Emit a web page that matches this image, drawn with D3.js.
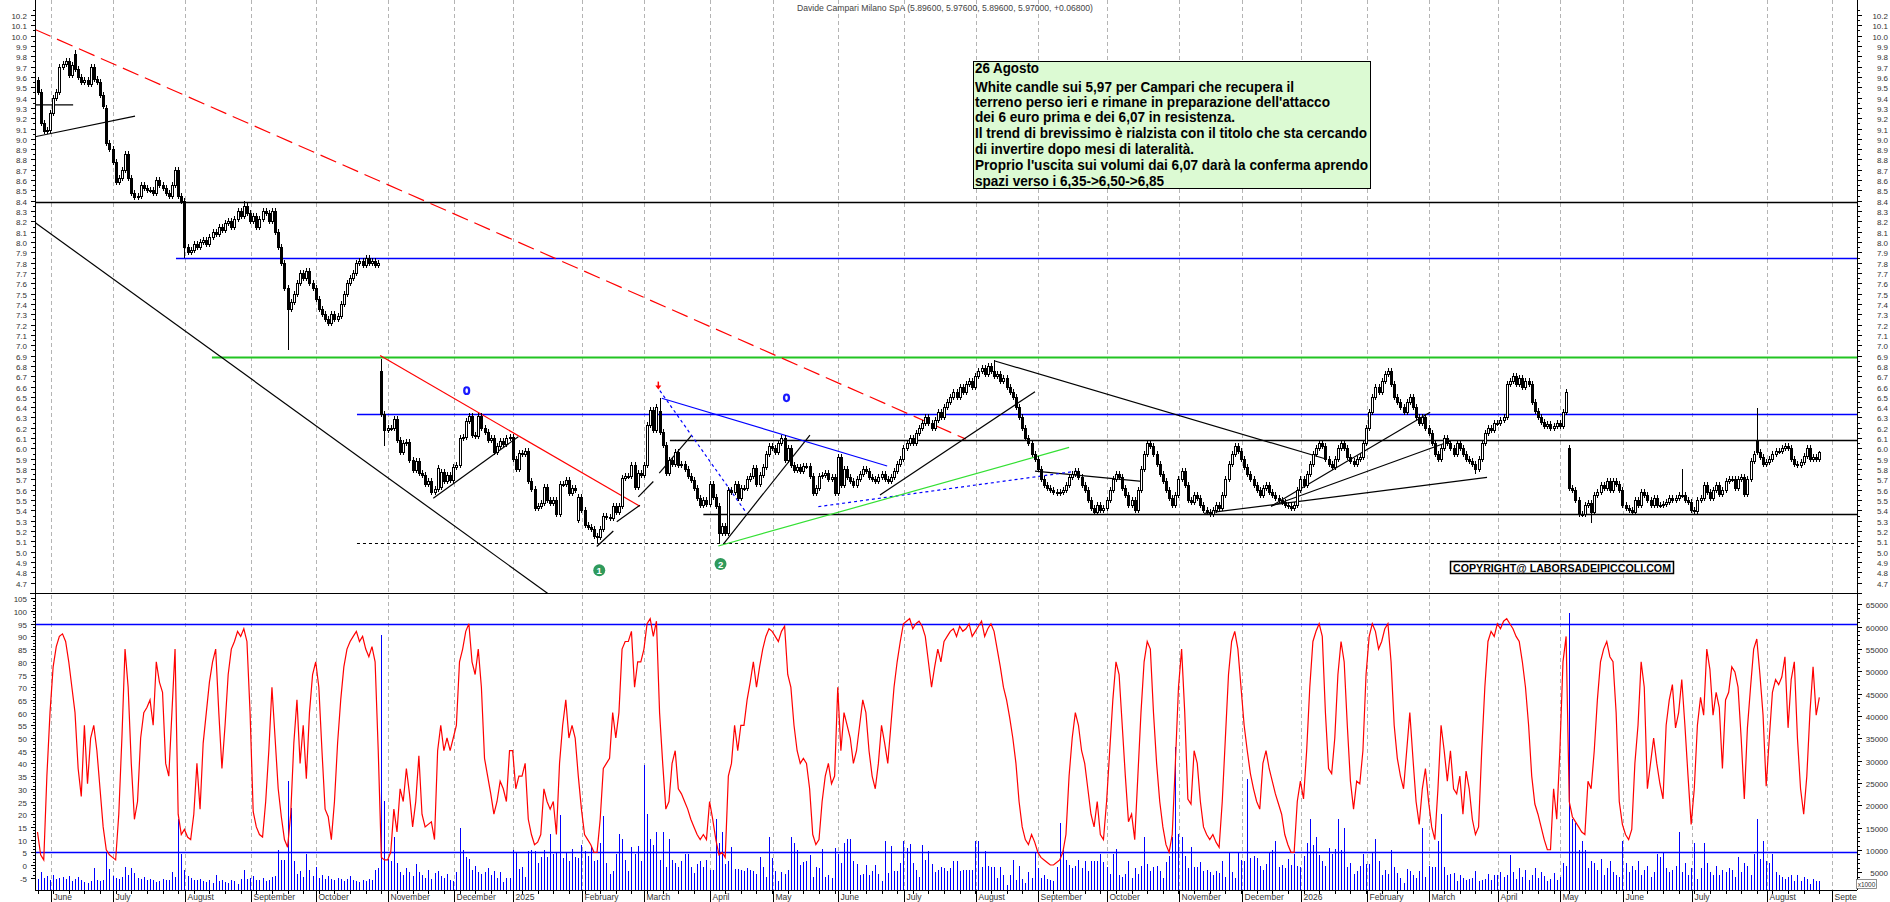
<!DOCTYPE html>
<html><head><meta charset="utf-8">
<script src="https://cdn.jsdelivr.net/npm/d3@7"></script>
<style>
html,body{margin:0;padding:0;background:#fff;overflow:hidden}
svg{display:block}
text{font-family:"Liberation Sans",Arial,sans-serif}
</style></head><body>
<svg id="c" width="1890" height="902"></svg>
<script>
// ---------------- DATA ----------------
const title = "Davide Campari Milano SpA (5.89600, 5.97600, 5.89600, 5.97000, +0.06800)";

// daily closes, late May 2024 -> 26 Aug 2026
const closes = [
9.45,9.15,9.08,9.09,
9.25,9.40,9.45,9.70,9.73,9.75,9.62,9.72,9.68,9.60,9.55,9.57,9.53,9.70,9.58,9.55,9.42,9.32,8.96,8.90,
8.78,8.58,8.62,8.70,8.85,8.62,8.48,8.44,8.45,8.55,8.52,8.50,8.50,8.48,8.60,8.55,8.52,8.48,8.45,8.55,8.70,8.45,8.40,
7.95,7.90,7.92,7.98,7.95,8.00,8.02,7.98,8.05,8.10,8.08,8.15,8.12,8.18,8.20,8.15,8.22,8.30,8.25,8.35,8.28,
8.20,8.25,8.15,8.22,8.30,8.28,8.20,8.30,8.10,7.95,7.80,7.55,7.35,7.42,7.50,7.60,7.70,7.65,7.72,7.60,7.55,
7.45,7.35,7.30,7.25,7.22,7.30,7.25,7.28,7.40,7.50,7.60,7.65,7.70,7.80,7.82,7.78,7.85,7.80,7.82,7.78,7.80,6.33,6.18,
6.20,6.20,6.29,6.08,5.97,6.05,6.06,5.89,5.79,5.88,5.76,5.74,5.66,5.68,5.58,5.61,5.81,5.77,5.68,5.74,5.69,
5.82,5.84,6.10,6.11,6.27,6.31,6.13,6.12,6.31,6.20,6.16,6.08,6.10,5.97,6.02,6.07,6.04,6.10,6.11,
5.90,5.80,5.96,5.95,5.98,5.68,5.61,5.42,5.44,5.47,5.63,5.50,5.47,5.50,5.36,5.66,5.66,5.69,5.57,5.62,5.60,5.53,
5.40,5.26,5.24,5.22,5.15,5.14,5.22,5.35,5.34,5.33,5.44,5.38,5.44,5.71,5.73,5.73,5.84,5.63,5.76,5.74,
5.84,6.23,6.37,6.18,6.40,6.16,6.03,5.76,5.89,5.85,5.97,5.84,5.85,5.80,5.73,5.69,5.62,5.52,5.45,5.50,5.46,
5.66,5.53,5.44,5.18,5.25,5.18,5.60,5.58,5.66,5.52,5.62,5.62,5.70,5.73,5.81,5.66,5.74,5.82,5.95,6.02,
6.00,5.97,6.05,6.10,5.89,6.00,5.84,5.79,5.82,5.78,5.83,5.83,5.73,5.57,5.62,5.73,5.74,5.76,5.70,5.72,5.57,
5.92,5.65,5.80,5.72,5.68,5.65,5.70,5.75,5.80,5.78,5.72,5.70,5.68,5.72,5.75,5.70,5.68,5.72,5.78,5.85,5.90,
6.00,6.05,6.10,6.05,6.15,6.20,6.25,6.30,6.25,6.20,6.28,6.35,6.30,6.40,6.45,6.50,6.55,6.50,6.60,6.55,6.62,6.65,6.60,
6.70,6.75,6.78,6.72,6.80,6.75,6.70,6.72,6.65,6.68,6.60,6.55,6.50,6.40,6.30,6.20,6.10,6.05,5.95,5.90,
5.80,5.70,5.65,5.62,5.60,5.58,5.57,5.58,5.60,5.65,5.72,5.75,5.78,5.72,5.65,5.60,5.50,5.42,5.38,5.45,5.40,5.42,
5.50,5.60,5.70,5.75,5.72,5.62,5.55,5.45,5.50,5.40,5.60,5.80,5.95,6.05,6.02,5.95,5.85,5.75,5.68,5.60,5.52,5.45,5.55,
5.70,5.78,5.65,5.50,5.48,5.55,5.52,5.45,5.40,5.38,5.36,5.40,5.45,5.42,5.55,5.70,5.85,5.95,6.02,5.98,
5.90,5.82,5.75,5.70,5.65,5.60,5.55,5.62,5.65,5.58,5.55,5.52,5.50,5.48,5.45,5.44,5.42,5.45,5.60,
5.70,5.65,5.75,5.85,5.95,6.00,6.05,6.02,5.90,5.85,5.82,5.90,6.00,6.05,6.00,5.92,5.88,5.85,5.90,5.92,6.05,
6.20,6.35,6.50,6.60,6.55,6.65,6.72,6.75,6.62,6.50,6.45,6.40,6.35,6.45,6.50,6.40,6.30,6.25,6.30,6.20,
6.15,6.05,5.95,5.90,6.00,6.10,6.05,6.00,5.95,6.05,6.00,5.95,5.90,5.88,5.85,5.80,5.90,6.05,6.15,6.20,6.18,6.25,
6.25,6.28,6.30,6.62,6.65,6.70,6.62,6.68,6.60,6.65,6.62,6.45,6.36,6.30,6.26,6.22,6.24,6.20,6.22,6.25,
6.22,6.35,6.55,5.62,5.60,5.50,5.36,5.36,5.45,5.47,5.38,5.55,5.58,5.65,5.62,5.68,5.60,5.68,5.66,5.60,
5.45,5.42,5.40,5.38,5.50,5.45,5.58,5.55,5.50,5.45,5.52,5.45,5.45,5.46,5.48,5.52,5.50,5.52,5.55,5.55,5.50,5.48,
5.40,5.39,5.50,5.52,5.65,5.58,5.52,5.60,5.65,5.56,5.60,5.68,5.70,5.70,5.62,5.70,5.72,5.56,5.70,5.88,5.95,5.97,5.92,5.85,
5.87,5.90,5.95,5.98,5.98,6.00,6.02,6.00,5.90,5.85,5.84,5.87,5.93,6.00,5.90,5.92,5.90,5.97
];
// opens that differ from the previous close [index, open]
const gapOpens = [[0,9.57],[12,9.82],[22,9.30],[110,6.75],[129,5.63],[173,5.31],[199,6.36],[490,6.00],[550,6.08],[570,5.896]];
// long wicks [index, price]
const highWicks = [[12,9.86],[66,8.40],[110,6.87],[199,6.49],[306,6.86],[526,5.80],[550,6.39],[570,5.976]];
const lowWicks = [[47,7.85],[80,6.95],[111,6.02],[179,5.08],[218,5.08],[460,5.75],[497,5.28]];

// oscillator (0-100)
const oscValues = [
13,4,2,35,
60,78,86,90,91,88,80,70,60,38,27,55,32,50,55,45,30,15,6,4,
3,2,20,50,85,70,40,18,25,50,60,62,65,55,80,72,68,40,35,60,85,20,12,
14,11,10,20,40,22,48,60,72,80,85,60,38,55,75,85,88,92,90,93,88,
60,21,15,12,11,25,45,70,50,30,19,10,7,20,48,65,40,55,34,60,75,
80,70,45,22,19,10,25,48,65,78,85,88,90,92,88,90,85,82,86,80,45,3,2,
2,5,22,13,30,25,38,28,15,25,43,20,15,16,17,10,45,55,45,50,45,
50,55,80,85,92,95,80,75,85,70,42,35,28,20,25,33,30,25,45,
45,30,35,35,40,18,12,8,9,12,30,25,22,25,12,40,55,65,50,55,50,35,
22,12,10,8,5,5,18,38,40,42,60,50,60,85,88,88,92,70,80,80,
85,95,97,90,96,60,40,22,25,40,45,30,28,25,22,18,15,12,10,12,10,
25,18,10,4,5,3,35,40,55,45,55,55,65,72,80,70,78,85,90,93,
92,90,88,92,94,75,70,55,45,40,42,40,30,12,8,10,25,35,40,32,35,
70,45,60,55,50,40,45,55,65,60,45,35,30,40,55,48,40,55,70,80,88,
95,96,97,93,95,96,94,90,80,70,78,85,80,88,90,92,93,90,94,92,93,95,90,
92,94,96,90,93,95,92,85,78,70,65,58,50,40,25,15,10,8,12,9,
5,3,2,1,0,0,1,2,5,12,35,50,60,55,45,40,30,20,15,25,12,10,
25,45,65,80,75,55,35,17,20,10,35,60,80,88,85,60,40,25,15,8,5,12,40,
70,85,60,26,24,45,40,25,15,12,10,12,9,7,25,50,75,88,92,85,
70,55,45,36,30,25,22,40,45,38,33,28,24,20,12,8,5,5,25,
33,26,45,70,88,92,95,90,60,38,36,50,75,88,80,55,33,22,33,32,45,
75,90,95,92,85,88,93,95,80,55,42,35,30,45,60,42,25,16,30,38,
25,15,10,30,55,45,33,45,30,28,35,20,37,30,18,12,15,45,70,88,92,90,
95,93,96,97,95,93,90,88,80,70,55,35,24,20,15,10,6,6,30,18,
45,80,90,25,19,17,15,13,12,33,30,45,65,80,85,88,82,80,60,25,
16,12,10,14,40,55,80,70,30,40,50,40,32,26,55,65,71,54,60,73,55,35,
16,30,55,66,59,85,77,59,68,62,38,65,68,78,76,70,50,26,54,70,85,89,75,59,
31,50,68,73,71,74,82,54,73,80,50,30,20,35,60,78,59,66
];

// volumes, thousands of shares
const volumes = [
3.5,5,3.8,4.2,3.2,4.4,3.6,3.8,4,3.5,4.2,3,3.6,4,3.2,2.8,2.6,3,6,3.4,3,3.2,9.5,5.8,
4.2,3.8,3.6,4,6.2,4.4,6,4.8,3.8,3.5,4,3.2,3.6,3.4,2.8,3,3.6,3.2,3.4,5,4,17,9,
5.5,4.2,3.8,3.4,3.2,3.6,3,2.8,3.3,2.6,4.4,3,3.2,2.8,2.6,3.4,3,2.5,3.5,5.5,3.6,
3.8,4.2,3.4,3.2,3.8,3,3.4,4,4.2,10,7.8,7.8,25.5,19.5,7.5,4.6,5.2,4,9,5.5,4.2,
6.2,3.8,4.4,3.6,4.2,3.6,3.2,3.8,3.5,3,3.6,4.2,3.4,3,2.8,3.4,3,3.6,3.2,5.5,6,58,21,
8,7.5,13,7,5,4.5,6,5,4.2,6.8,5,4.4,3.8,5.6,3.6,4.8,5.2,4.2,3.8,4.6,3.4,
3,5,15,10,8.5,8,5.5,6.4,5,4.6,5,6,4.4,5.2,3.8,
5.0,2.8,3.7,3.7,9.9,9.3,5.7,6.1,4,9.7,
9.9,9.7,7.2,8.4,9.9,8.4,13.5,9,9.5,17.8,
8.2,9.5,7.6,10.2,8.4,8.2,11.2,9.7,8.6,10.6,
7.5,7.8,11.6,17.5,7.1,4.6,5.3,9.2,13.5,12.5,
7.8,5.2,10.6,9,11,7.5,29,18,12.5,11.2,
14,7.8,14,6.1,12.5,7.8,7.1,6.1,7.5,9,
9,6.3,4.8,6.8,7.5,6.3,7.8,5.6,5.6,17,
11.6,14,6.8,7.5,10.6,5.7,5.7,5.6,5.3,5.9,
5.6,5.3,4.7,8.4,6.1,4,13,8.2,5.3,3.1,
5,4.6,5.6,13,11.6,10,6.7,7.3,7.6,8.8,
4,6.3,5.9,10.2,4,4.3,3.8,10.5,9,7.1,
11.6,12.5,12.5,7.5,6.8,4.4,4.7,6.7,4.4,5.2,
6.7,4.7,3,12,4.8,10.8,5.3,5.3,7.1,12,
10.5,11.4,7.1,5.6,4,11.2,7.7,9.7,6.8,5,
5.6,6.1,5.9,5.2,5.9,7.6,7.6,5.2,5.6,5.6,
5.6,5.6,12,12,6.1,9.7,6.5,6.3,6.3,3.8,
6.1,
4.4,2.2,4.4,7.7,3.3,6.5,3.5,2.55,5,3.8,
9.5,5.9,3.8,4.3,3.5,3.2,3,6.3,16,10,
7.7,6.7,5.9,6.5,7.7,5.9,7.5,5.2,7.5,7.6,
7.6,9,7.3,6.3,4.7,9,10.3,4.4,4,4.7,
7.6,3.7,5.9,4.6,6.5,13,6.9,5.2,6.3,6.5,
5.2,3.7,7.3,8.6,13,33,13.5,12.8,8.6,5.9,
10.7,6.1,6.1,7.3,5.2,5.6,5.1,4.4,5.2,4.8,
7.5,4,9.5,5.1,3.7,9.3,7.7,7.5,26,8.2,
8.6,8.2,6.5,5.6,6.8,9.3,10.1,12,6.1,6.7,
5.9,8,6.7,9,6.5,6.1,8.6,11.6,17,11.2,
13,8.8,7.6,6.5,10.5,9.2,10.3,17,10,15,
6.3,7.2,4.6,5.2,6.5,9,6.8,6.8,9.3,12.5,
7.6,4.4,5.6,4.7,10,6.3,4.8,3.7,2.55,5.7,
5.3,4.4,3.8,5.3,15,4,6.5,6.3,6.3,12,
18,6.3,4.4,4.6,4.8,3,4.3,3.8,3.3,3.5,
3.7,5.3,3,3.2,3.5,4.6,3.3,4.4,4.4,
5,4,4.5,8.8,
5,3.5,6,4,5.5,3.2,4.5,6,3.8,5,4.2,3,3.5,4.8,3.2,
4,7,6.5,
63,
17,16,10,12,10,6,7.5,
7,5.5,8,4.5,6,7.5,5,4.5,4,
12,
7,5,6.5,5.5,7.5,4.5,5.5,6.5,4,5,
9,8.5,9.5,6,5,
5.5,6.5,
14,
5,7,4.5,6,
11.5,
3.5,6,
11.5,
7,5,4.5,6.5,4.5,5.5,5,6,5.5,4,8.5,5,7,6.5,4.5,9,
17,
8,
12,
7.5,7,9,5,
4.5,4,3.5,4,4.5,3,4.5,3,4,3.5,2.5,3.5,3,3
];

// month starts (bar index) and their labels
const monthStarts = [4,24,47,68,89,112,133,152,174,194,215,235,256,277,300,320,342,365,385,404,425,445,467,487,507,529,553,574];
const monthLabels = ["June","July","August","September","October","November","December","2025","February","March","April","May","June","July","August","September","October","November","December","2026","February","March","April","May","June","July","August","September"];

// axis tick labels
const priceTicks = [10.2,10.1,10.0,9.9,9.8,9.7,9.6,9.5,9.4,9.3,9.2,9.1,9.0,8.9,8.8,8.7,8.6,8.5,8.4,8.3,8.2,8.1,8.0,7.9,7.8,7.7,7.6,7.5,7.4,7.3,7.2,7.1,7.0,6.9,6.8,6.7,6.6,6.5,6.4,6.3,6.2,6.1,6.0,5.9,5.8,5.7,5.6,5.5,5.4,5.3,5.2,5.1,5.0,4.9,4.8,4.7];
const oscTicks = [105,100,95,90,85,80,75,70,65,60,55,50,45,40,35,30,25,20,15,10,5,0,-5];
const volTicks = [65000,60000,55000,50000,45000,40000,35000,30000,25000,20000,15000,10000,5000];

// support / resistance levels and the bar index where each starts
const levelPrices = [8.39,7.85,6.883,6.334,6.08,5.365,5.08];
const levelStarts = [-1,44.3,55.8,102.2,202.3,213,102.2];
// oscillator bands
const oscBands = [95,5];

// trend lines [i1, p1, i2, p2]
const trendLines = [
 [-0.8,10.06,297,6.09],
 [-0.8,8.19,167.1,4.51],
 [-0.8,9.33,11.4,9.33],
 [-0.8,9.02,31.2,9.22],
 [109.6,6.90,192.7,5.44],
 [126.6,5.517,153.8,6.114],
 [178.9,5.05,184.2,5.20],
 [185.3,5.29,192.7,5.45],
 [192.2,5.53,197,5.68],
 [198.9,5.76,209.3,6.13],
 [219.4,5.074,247.1,6.13],
 [269.5,5.55,319.1,6.55],
 [306,6.85,411.9,5.90],
 [319.1,5.78,353.3,5.68],
 [373.2,5.37,463.7,5.72],
 [394.6,5.44,451.9,6.07],
 [394.6,5.44,445.5,6.35],
 [199.7,6.486,271.8,5.83],
 [199.1,6.56,226.9,5.37],
 [249.8,5.436,332.5,5.78],
 [217.8,5.055,330,6.01]
];
// markers
const blueRings = [[137.3,6.56],[239.6,6.49]];
const redArrows = [[198.6,6.58]];
const numberedPoints = [[179.7,4.82,"1"],[218.5,4.88,"2"]];

const noteLines = ["26 Agosto","White candle sui 5,97 per Campari che recupera il","terreno perso ieri e rimane in preparazione dell'attacco","dei 6 euro prima e dei 6,07 in resistenza.","Il trend di brevissimo è rialzista con il titolo che sta cercando","di invertire dopo mesi di lateralità.","Proprio l'uscita sui volumi dai 6,07 darà la conferma aprendo","spazi verso i 6,35->6,50->6,85"];
const copyrightText = "COPYRIGHT@ LABORSADEIPICCOLI.COM";

// ---------------- LAYOUT / STYLE ----------------
const W=1890,H=902, XL=35, XR=1857, PB=593, AXY=890;
const levelStyles = [
 {c:"#000",w:1.5},{c:"#0000ff",w:1.5},{c:"#22c422",w:2.2},{c:"#0000ff",w:1.5},{c:"#000",w:1.5},{c:"#000",w:1.5},{c:"#000",w:1.2,d:"3,3"}];
const trendStyles = [
 {c:"#ff0000",d:"17,7"},{c:"#000"},{c:"#000"},{c:"#000"},{c:"#ff0000"},{c:"#000"},{c:"#000"},{c:"#000"},{c:"#000"},{c:"#000"},{c:"#000"},{c:"#000"},{c:"#000"},{c:"#000"},{c:"#000"},{c:"#000"},{c:"#000"},
 {c:"#0000ff"},{c:"#0000ff",d:"3,3"},{c:"#0000ff",d:"3,3"},{c:"#33e033"}];
const noteCenters = [68,87,102,117,133,149,165,181];
const noteWidths = [64,319,355,260,392,219,393,189];

const svg = d3.select("#c");
const N = closes.length;
const x = d3.scaleLinear().domain([0, N-1]).range([37.5, 37.5+(N-1)*3.126]);
const yP = d3.scaleLinear().domain([10.2,4.7]).range([15,582.6]);
const yO = d3.scaleLinear().domain([105,-5]).range([598.3,877.7]);
const yV = d3.scaleLinear().domain([0,65]).range([894.7,604.2]);

const defs = svg.append("defs");
defs.append("clipPath").attr("id","cp").append("rect").attr("x",XL).attr("y",0).attr("width",XR-XL).attr("height",PB);
defs.append("clipPath").attr("id","cl").append("rect").attr("x",XL).attr("y",PB).attr("width",XR-XL).attr("height",AXY-PB);
defs.append("clipPath").attr("id","cx").append("rect").attr("x",XL).attr("y",AXY).attr("width",XR-XL).attr("height",H-AXY);

// month grid
const grid = svg.append("g");
monthStarts.forEach(m=>{
  const gx = Math.round(x(m)+0.5)+0.5;
  if (gx < XR) grid.append("line").attr("x1",gx).attr("x2",gx).attr("y1",0).attr("y2",AXY)
    .attr("stroke","#b4b4b4").attr("stroke-dasharray","4,3");
});

// price panel
const pg = svg.append("g").attr("clip-path","url(#cp)");
levelPrices.forEach((p,k)=>{
  const s = levelStyles[k]; const yy = Math.round(yP(p))+0.5;
  pg.append("line").attr("x1",Math.max(XL,x(levelStarts[k]))).attr("x2",XR).attr("y1",yy).attr("y2",yy)
    .attr("stroke",s.c).attr("stroke-width",s.w).attr("stroke-dasharray",s.d||null);
});
trendLines.forEach((t,k)=>{
  const s = trendStyles[k];
  pg.append("line").attr("x1",x(t[0])).attr("y1",yP(t[1])).attr("x2",x(t[2])).attr("y2",yP(t[3]))
    .attr("stroke",s.c).attr("stroke-width",1.2).attr("stroke-dasharray",s.d||null);
});

// candles
const opens = closes.map((c,i)=> i ? closes[i-1] : c);
gapOpens.forEach(([i,o])=>{ opens[i]=o; });
const hiMap = new Map(highWicks), loMap = new Map(lowWicks);
const cg = pg.append("g").attr("shape-rendering","crispEdges");
closes.forEach((c,i)=>{
  const o = opens[i]; const cx = Math.round(x(i));
  const top = Math.max(o,c), bot = Math.min(o,c);
  const yt = Math.round(yP(top)), yb = Math.round(yP(bot));
  const wt = hiMap.has(i) ? yP(hiMap.get(i)) : yt-3;
  const wb = loMap.has(i) ? yP(loMap.get(i)) : yb+3;
  cg.append("line").attr("x1",cx+0.5).attr("x2",cx+0.5).attr("y1",wt).attr("y2",wb).attr("stroke","#000");
  cg.append("rect").attr("x",cx-0.5).attr("y",yt+0.5).attr("width",2).attr("height",Math.max(1,yb-yt))
    .attr("fill", c>=o ? "#fff" : "#000").attr("stroke","#000").attr("stroke-width",1);
});

// markers
blueRings.forEach(([i,p])=>{
  pg.append("ellipse").attr("cx",x(i)).attr("cy",yP(p)).attr("rx",3.6).attr("ry",4.4).attr("fill","#1a1aff");
  pg.append("ellipse").attr("cx",x(i)).attr("cy",yP(p)).attr("rx",1.3).attr("ry",2.4).attr("fill","#fff");
});
redArrows.forEach(([i,p])=>{
  const ax=x(i), ay=yP(p);
  pg.append("line").attr("x1",ax).attr("x2",ax).attr("y1",ay-7).attr("y2",ay-2).attr("stroke","#ff0000").attr("stroke-width",1.5);
  pg.append("path").attr("d",`M${ax-3},${ay-3}L${ax},${ay+1}L${ax+3},${ay-3}Z`).attr("fill","#ff0000");
});
numberedPoints.forEach(([i,p,t])=>{
  pg.append("circle").attr("cx",x(i)).attr("cy",yP(p)).attr("r",6).attr("fill","#2f9a5c");
  pg.append("text").attr("x",x(i)).attr("y",yP(p)+3.5).attr("text-anchor","middle").attr("font-size",9.5).attr("font-weight","bold").attr("fill","#fff").text(t);
});

// annotation box
svg.append("rect").attr("x",973.5).attr("y",61.5).attr("width",397).attr("height",127).attr("fill","#dcfad3").attr("stroke","#000").attr("stroke-width",1);
noteLines.forEach((t,k)=>{
  svg.append("text").attr("x",975).attr("y",noteCenters[k]+5).attr("font-size",14).attr("font-weight","bold")
    .style("font-family",'"Liberation Sans Narrow","Liberation Sans",Arial,sans-serif')
    .attr("textLength",noteWidths[k]).attr("lengthAdjust","spacingAndGlyphs").attr("fill","#000").text(t);
});

// copyright
svg.append("rect").attr("x",1450.5).attr("y",561.5).attr("width",223).attr("height",12).attr("fill","#fff").attr("stroke","#000").attr("stroke-width",1.5);
svg.append("text").attr("x",1453).attr("y",571.5).attr("font-size",11).attr("font-weight","bold").attr("textLength",218).attr("lengthAdjust","spacingAndGlyphs").attr("fill","#000").text(copyrightText);

// lower panel
const lg = svg.append("g").attr("clip-path","url(#cl)");
const vg = lg.append("g").attr("shape-rendering","crispEdges");
volumes.forEach((v,i)=>{
  const cx = Math.round(x(i))+0.5;
  vg.append("line").attr("x1",cx).attr("x2",cx).attr("y1",AXY).attr("y2",yV(v)).attr("stroke","#0000ff").attr("stroke-width",1);
});
oscBands.forEach(b=>{
  const yy = Math.round(yO(b))+0.5;
  lg.append("line").attr("x1",XL).attr("x2",XR).attr("y1",yy).attr("y2",yy).attr("stroke","#0000ff").attr("stroke-width",1.6);
});
lg.append("path").datum(oscValues).attr("d",d3.line().x((d,i)=>x(i)).y(d=>yO(d)))
  .attr("fill","none").attr("stroke","#ff0000").attr("stroke-width",1.2);

// frame lines
const fr = svg.append("g").attr("shape-rendering","crispEdges");
fr.append("line").attr("x1",XL+0.5).attr("x2",XL+0.5).attr("y1",0).attr("y2",AXY).attr("stroke","#000");
fr.append("line").attr("x1",XR+0.5).attr("x2",XR+0.5).attr("y1",0).attr("y2",AXY).attr("stroke","#000");
fr.append("line").attr("x1",30).attr("x2",XR+5).attr("y1",PB+0.5).attr("y2",PB+0.5).attr("stroke","#000").attr("stroke-width",1.5);
fr.append("line").attr("x1",XL).attr("x2",XR).attr("y1",AXY+0.5).attr("y2",AXY+0.5).attr("stroke","#000");

// axes text
const lab = svg.append("g").attr("font-size",8).attr("fill","#333");
priceTicks.forEach(v=>{
  const yy = Math.round(yP(v))+0.5, ym = Math.round(yP(v+0.05))+0.5;
  fr.append("line").attr("x1",XL-4).attr("x2",XL).attr("y1",yy).attr("y2",yy).attr("stroke","#000");
  fr.append("line").attr("x1",XL-2).attr("x2",XL).attr("y1",ym).attr("y2",ym).attr("stroke","#000");
  fr.append("line").attr("x1",XR).attr("x2",XR+5).attr("y1",yy).attr("y2",yy).attr("stroke","#000");
  fr.append("line").attr("x1",XR).attr("x2",XR+3).attr("y1",ym).attr("y2",ym).attr("stroke","#000");
  lab.append("text").attr("x",27).attr("y",yy+3).attr("text-anchor","end").text(v.toFixed(1));
  lab.append("text").attr("x",1888).attr("y",yy+3).attr("text-anchor","end").text(v.toFixed(1));
});
oscTicks.forEach(v=>{
  const yy = Math.round(yO(v))+0.5;
  fr.append("line").attr("x1",XL-4).attr("x2",XL).attr("y1",yy).attr("y2",yy).attr("stroke","#000");
  [1.25,2.5,3.75].forEach(m=>{ if (v-m>=-5){ const ym=Math.round(yO(v-m))+0.5;
    fr.append("line").attr("x1",XL-2).attr("x2",XL).attr("y1",ym).attr("y2",ym).attr("stroke","#000"); }});
  lab.append("text").attr("x",27).attr("y",yy+3).attr("text-anchor","end").text(v);
});
volTicks.forEach(v=>{
  const yy = Math.round(yV(v/1000))+0.5;
  fr.append("line").attr("x1",XR).attr("x2",XR+5).attr("y1",yy).attr("y2",yy).attr("stroke","#000");
  [1,2,3,4].forEach(m=>{ const ym=Math.round(yV(v/1000-m))+0.5; if (ym<AXY)
    fr.append("line").attr("x1",XR).attr("x2",XR+3).attr("y1",ym).attr("y2",ym).attr("stroke","#000"); });
  lab.append("text").attr("x",1888).attr("y",yy+3).attr("text-anchor","end").text(v);
});
svg.append("rect").attr("x",1856.5).attr("y",879.5).attr("width",20).attr("height",9).attr("fill","#fff").attr("stroke","#777").attr("stroke-width",0.8);
svg.append("text").attr("x",1866.5).attr("y",886.5).attr("text-anchor","middle").attr("font-size",6.5).attr("fill","#333").text("x1000");

// x axis
for (let i=0;i<N;i+=5){
  const tx = Math.round(x(i))+0.5;
  fr.append("line").attr("x1",tx).attr("x2",tx).attr("y1",AXY).attr("y2",AXY+4).attr("stroke","#000");
}
const xl = svg.append("g").attr("clip-path","url(#cx)").attr("font-size",8.5).attr("fill","#333");
monthStarts.forEach((m,k)=>{
  const gx = Math.round(x(m)+0.5)+0.5;
  fr.append("line").attr("x1",gx).attr("x2",gx).attr("y1",AXY).attr("y2",H).attr("stroke","#000");
  xl.append("text").attr("x",gx+2).attr("y",900).text(monthLabels[k]);
});

// title
svg.append("text").attr("x",797).attr("y",10.5).attr("font-size",9).attr("fill","#444")
  .attr("textLength",296).attr("lengthAdjust","spacingAndGlyphs").text(title);
</script>
</body></html>
